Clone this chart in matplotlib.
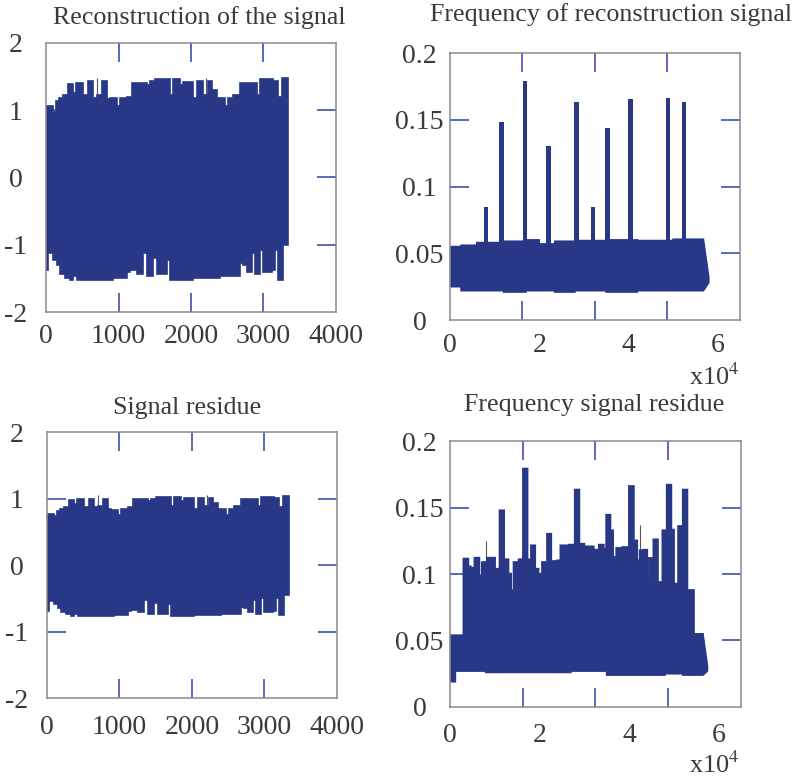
import numpy as np
import matplotlib.pyplot as plt

plt.rcParams['font.family'] = ['Liberation Serif', 'DejaVu Serif']
plt.rcParams['mathtext.fontset'] = 'stix'
plt.rcParams['axes.unicode_minus'] = False

# ---- signal panels (left column): step envelopes of the dense signal ----
sig_up_edges = [0, 101, 138, 184, 230, 308, 377, 410, 515, 584, 653, 699, 768, 837, 883,
                975, 1021, 1113, 1182, 1389, 1435, 1504, 1711, 1757, 1849, 1895, 2033,
                2079, 2171, 2240, 2286, 2355, 2470, 2516, 2585, 2677, 2907, 2953, 3137,
                3206, 3252, 3344]
sig_lo_edges = [0, 32, 101, 147, 193, 262, 331, 377, 423, 929, 1113, 1159, 1251, 1343,
                1389, 1481, 1527, 1665, 1711, 2033, 2401, 2493, 2677, 2723, 2769, 2838,
                2884, 2953, 2999, 3114, 3160, 3206, 3275, 3344]

recon_hi = [1.06, 0.97, 1.13, 1.18, 1.22, 1.39, 1.26, 1.41, 1.23, 1.44, 1.18, 1.23, 1.44,
            1.16, 1.18, 1.06, 1.18, 1.20, 1.41, 1.38, 1.43, 1.46, 1.23, 1.47, 1.38, 1.42,
            1.18, 1.43, 1.23, 1.43, 1.30, 1.18, 1.06, 1.18, 1.23, 1.40, 1.23, 1.46, 1.43,
            1.20, 1.48]
recon_lo = [-1.37, -1.13, -1.23, -1.30, -1.44, -1.49, -1.52, -1.47, -1.52, -1.49, -1.40,
            -1.37, -1.44, -1.13, -1.47, -1.20, -1.44, -1.23, -1.52, -1.49, -1.47, -1.47,
            -1.27, -1.30, -1.40, -1.13, -1.44, -1.08, -1.40, -1.37, -1.08, -1.52, -1.01]

resid_hi = [0.77, 0.74, 0.82, 0.85, 0.88, 0.98, 0.92, 0.99, 0.87, 1.00, 0.87, 0.89, 1.00,
            0.85, 0.83, 0.75, 0.84, 0.87, 0.99, 0.96, 1.00, 1.02, 0.89, 1.03, 0.97, 1.01,
            0.85, 1.01, 0.89, 1.01, 0.93, 0.85, 0.75, 0.85, 0.89, 0.99, 0.89, 1.02, 1.01,
            0.87, 1.04]
resid_lo = [-0.69, -0.54, -0.59, -0.64, -0.71, -0.74, -0.76, -0.74, -0.76, -0.75, -0.69,
            -0.67, -0.71, -0.52, -0.74, -0.57, -0.73, -0.59, -0.76, -0.75, -0.74, -0.74,
            -0.63, -0.64, -0.70, -0.52, -0.73, -0.50, -0.71, -0.69, -0.50, -0.75, -0.45]

sig_thin_x = [699, 2203]
recon_thin_top = [1.48, 1.48]
resid_thin_top = [1.05, 1.05]

# ---- frequency of reconstruction (x in units of 1e4) ----
frec_edges = [0, 0.25, 0.6, 1.2, 1.7, 2.0, 2.35, 2.8, 3.5, 4.2, 5.0, 5.68]
frec_hi = [0.055, 0.056, 0.058, 0.059, 0.060, 0.057, 0.059, 0.0595, 0.060, 0.0595, 0.0605]
frec_lo = [0.025, 0.022, 0.022, 0.021, 0.022, 0.022, 0.021, 0.022, 0.021, 0.022, 0.022]
frec_tail = (5.80, 0.032, 0.028)
peak_x = [0.81, 1.16, 1.68, 2.21, 2.84, 3.20, 3.53, 4.05, 4.89, 5.25]
peak_h = [0.085, 0.148, 0.179, 0.130, 0.1635, 0.085, 0.144, 0.1655, 0.1665, 0.163]

# ---- frequency of residue ----
fres_up_edges = [0, 0.299, 0.411, 0.463, 0.545, 0.657, 0.710, 0.822, 1.008, 1.106, 1.210,
                 1.307, 1.367, 1.419, 1.531, 1.629, 1.733, 1.808, 1.905, 1.979, 2.054,
                 2.166, 2.263, 2.390, 2.465, 2.614, 2.652, 2.786, 2.891, 3.003, 3.085,
                 3.212, 3.249, 3.324, 3.436, 3.488, 3.585, 3.645, 3.712, 3.847, 3.996,
                 4.108, 4.183, 4.236, 4.318, 4.407, 4.445, 4.542, 4.646, 4.743, 4.840,
                 4.945, 5.005, 5.094, 5.199, 5.304, 5.45, 5.65]
fres_hi = [0.054, 0.1116, 0.1058, 0.1048, 0.1123, 0.0990, 0.1090, 0.1123, 0.1040, 0.1479,
           0.1111, 0.1003, 0.0878, 0.1090, 0.1111, 0.1793, 0.1111, 0.1216, 0.1040, 0.1003,
           0.1090, 0.1303, 0.1098, 0.1103, 0.1216, 0.1191, 0.1221, 0.1635, 0.1228, 0.1208,
           0.1208, 0.1111, 0.1183, 0.1221, 0.1191, 0.1446, 0.1329, 0.1128, 0.1196, 0.1203,
           0.1662, 0.1253, 0.1103, 0.1178, 0.1183, 0.0940, 0.1121, 0.1261, 0.0940, 0.1329,
           0.1672, 0.1334, 0.0928, 0.1361, 0.1635, 0.088, 0.055]
fres_lo_edges = [0, 0.12, 0.8, 2.7, 3.5, 4.8, 5.2, 5.65]
fres_lo = [0.019, 0.027, 0.026, 0.027, 0.024, 0.025, 0.024]
fres_tail = (5.75, 0.031, 0.027)
fres_thin_x = [0.81, 2.84, 4.24]
fres_thin_top = [0.125, 0.137, 0.137]

navy = '#283887'
tick_blue = '#3f4fab'
text_col = '#3a3a3a'


def step_xy(edges, vals):
    xs = np.repeat(np.asarray(edges, float), 2)[1:-1]
    ys = np.repeat(np.asarray(vals, float), 2)
    return xs, ys


def band(ax, up_edges, hi, lo_edges, lo, tail=None):
    ux, uy = step_xy(up_edges, hi)
    lx, ly = step_xy(lo_edges, lo)
    if tail is not None:
        ux = np.append(ux, tail[0]); uy = np.append(uy, tail[1])
        lx = np.append(lx, tail[0]); ly = np.append(ly, tail[2])
    px = np.concatenate([ux, lx[::-1]])
    py = np.concatenate([uy, ly[::-1]])
    ax.fill(px, py, color=navy, lw=1.2, ec=navy, zorder=2)


def style(ax, xlim, ylim, xmaj, ymaj, xmin, ymin, xpad):
    ax.set_xlim(*xlim)
    ax.set_ylim(*ylim)
    ax.xaxis.remove_overlapping_locs = False
    ax.yaxis.remove_overlapping_locs = False
    ax.set_xticks(xmaj)
    ax.set_yticks(ymaj)
    ax.set_xticks(xmin, minor=True)
    ax.set_yticks(ymin, minor=True)
    ax.tick_params(which='major', length=0, labelsize=20, labelcolor=text_col)
    ax.tick_params(axis='x', which='major', pad=xpad)
    ax.tick_params(axis='y', which='major', pad=22)
    ax.tick_params(which='minor', direction='in', length=14, width=1.2, color=tick_blue,
                   top=True, right=True, bottom=True, left=True)
    for s in ax.spines.values():
        s.set_color('#8a8a8a')
        s.set_linewidth(1.1)


fig = plt.figure(figsize=(7.96, 7.8), dpi=100)
ax1 = fig.add_axes([0.0578, 0.600, 0.3643, 0.3449])
ax2 = fig.add_axes([0.5653, 0.5897, 0.3643, 0.3423])
ax3 = fig.add_axes([0.0590, 0.1051, 0.3643, 0.3410])
ax4 = fig.add_axes([0.5653, 0.0936, 0.3656, 0.3410])

# top left
band(ax1, sig_up_edges, recon_hi, sig_lo_edges, recon_lo)
ax1.vlines(sig_thin_x, 0, recon_thin_top, color='#555555', lw=0.8, zorder=1)
style(ax1, (0, 4000), (-2, 2), [0, 1000, 2000, 3000, 4000], [-2, -1, 0, 1, 2],
      [1000, 2000, 3000], [-1, 0, 1], 8.5)
ax1.set_xticklabels(['0', '1000', '2000', '3000', '4000'])
ax1.set_yticklabels(['-2', '-1', '0', '1', '2'])

# top right
band(ax2, frec_edges, frec_hi, frec_edges, frec_lo, frec_tail)
ax2.bar(peak_x, np.array(peak_h) - 0.05, bottom=0.05, width=0.1, color=navy, zorder=2)
style(ax2, (0, 6.5), (0, 0.2), [0, 2, 4, 6], [0, 0.05, 0.1, 0.15, 0.2],
      [1.625, 3.25, 4.875], [0.05, 0.1, 0.15], 9)
ax2.set_xticklabels(['0', '2', '4', '6'])
ax2.set_yticklabels(['0', '0.05', '0.1', '0.15', '0.2'])

# bottom left
band(ax3, sig_up_edges, resid_hi, sig_lo_edges, resid_lo)
ax3.vlines(sig_thin_x, 0, resid_thin_top, color='#555555', lw=0.8, zorder=1)
style(ax3, (0, 4000), (-2, 2), [0, 1000, 2000, 3000, 4000], [-2, -1, 0, 1, 2],
      [1000, 2000, 3000], [-1, 0, 1], 12.5)
ax3.set_xticklabels(['0', '1000', '2000', '3000', '4000'])
ax3.set_yticklabels(['-2', '-1', '0', '1', '2'])

# bottom right
band(ax4, fres_up_edges, fres_hi, fres_lo_edges, fres_lo, fres_tail)
ax4.vlines(fres_thin_x, 0.05, fres_thin_top, color='#555555', lw=0.8, zorder=1)
style(ax4, (0, 6.5), (0, 0.2), [0, 2, 4, 6], [0, 0.05, 0.1, 0.15, 0.2],
      [1.625, 3.25, 4.875], [0.05, 0.1, 0.15], 11.5)
ax4.set_xticklabels(['0', '2', '4', '6'])
ax4.set_yticklabels(['0', '0.05', '0.1', '0.15', '0.2'])

for ax in (ax1, ax2, ax3, ax4):
    for lab in ax.get_yticklabels():
        lab.set_horizontalalignment('center')

fig.text(0.250, 0.977, 'Reconstruction of the signal', ha='center', va='center',
         fontsize=18.7, color=text_col)
fig.text(0.7676, 0.981, 'Frequency of reconstruction signal', ha='center', va='center',
         fontsize=18.7, color=text_col)
fig.text(0.2356, 0.477, 'Signal residue', ha='center', va='center',
         fontsize=18.7, color=text_col)
fig.text(0.746, 0.481, 'Frequency signal residue', ha='center', va='center',
         fontsize=18.7, color=text_col)
fig.text(740 / 796, 1 - 377 / 780, 'x10$^4$', ha='right', va='center',
         fontsize=19, color=text_col)
fig.text(740 / 796, 1 - 765 / 780, 'x10$^4$', ha='right', va='center',
         fontsize=19, color=text_col)

fig.savefig('out.png', dpi=100)
